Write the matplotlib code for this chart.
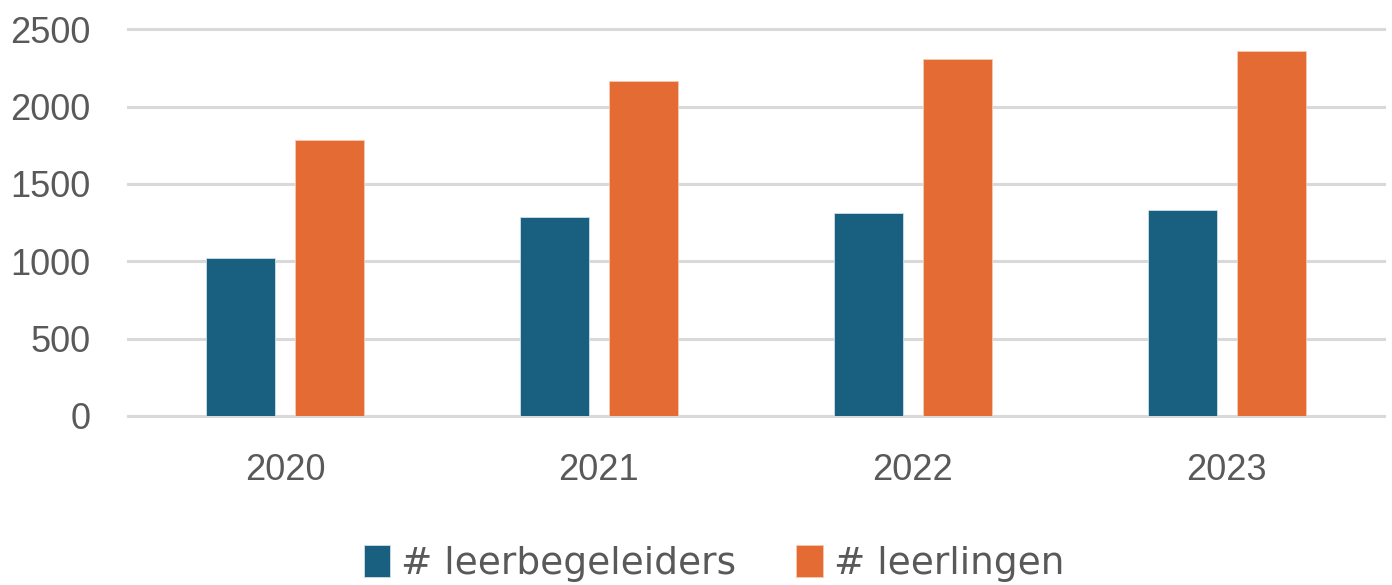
import matplotlib.pyplot as plt
import numpy as np

# data
years = ['2020', '2021', '2022', '2023']
leerbegeleiders = [1020, 1284, 1313, 1329]
leerlingen = [1787, 2164, 2306, 2362]
labels = ['# leerbegeleiders', '# leerlingen']

blue = '#185F80'
orange = '#E46C34'
grey_text = '#595959'

fig = plt.figure(figsize=(13.92, 5.85), dpi=100)
ax = fig.add_axes([0.092, 0.289, 0.902, 0.661])

x = np.arange(len(years))
w = 0.22
ax.bar(x - 0.142, leerbegeleiders, w, color=blue, label=labels[0],
       edgecolor='#cfe0ea', linewidth=0.6, zorder=3)
ax.bar(x + 0.142, leerlingen, w, color=orange, label=labels[1],
       edgecolor='#f6c9b2', linewidth=0.6, zorder=3)

ax.set_xlim(-0.5, len(years) - 0.5)
ax.set_ylim(0, 2500)
ax.set_yticks(np.arange(0, 2501, 500))
ax.set_xticks(x)
ax.set_xticklabels(years)
ax.yaxis.grid(True, color='#D9D9D9', linewidth=2.2, zorder=0)
ax.set_axisbelow(True)
for gl in ax.get_ygridlines():
    gl.set_clip_on(False)
for s in ax.spines.values():
    s.set_visible(False)
ax.tick_params(axis='both', length=0, labelsize=26, labelcolor=grey_text,
               labelfontfamily='Liberation Sans')
ax.tick_params(axis='y', pad=27)
ax.tick_params(axis='x', pad=27)

leg = fig.legend(loc='center', bbox_to_anchor=(0.513, 0.037), ncol=2, frameon=False,
                 prop={'family': ['DejaVu Sans Condensed', 'DejaVu Sans'], 'size': 27},
                 handlelength=0.7, handleheight=0.95, handletextpad=0.3,
                 columnspacing=1.6)
for t in leg.get_texts():
    t.set_color(grey_text)

fig.savefig('out.png', dpi=100)
